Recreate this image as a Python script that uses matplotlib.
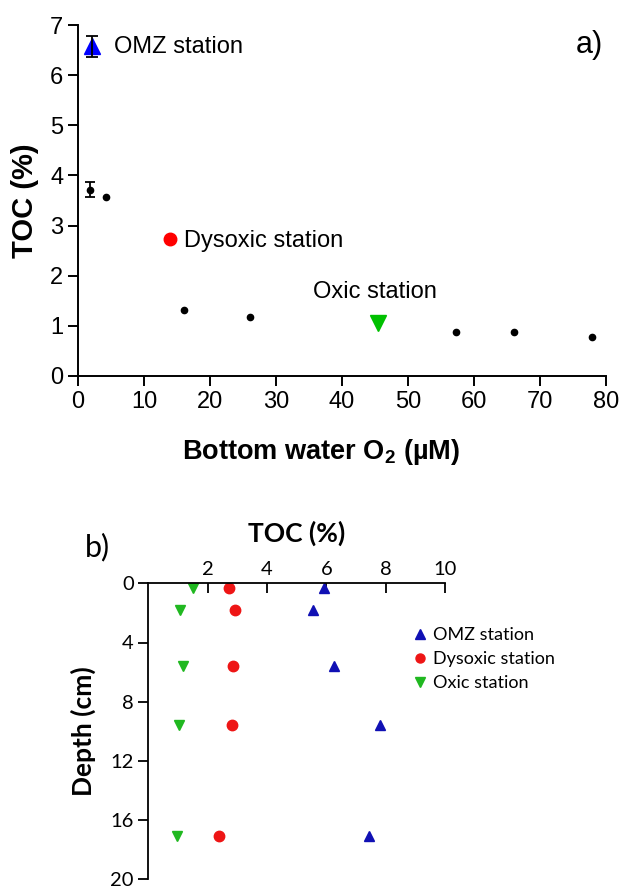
import matplotlib
matplotlib.use('Agg')
import matplotlib.pyplot as plt

plt.rcParams['font.family'] = ['Liberation Sans', 'DejaVu Sans']
plt.rcParams['mathtext.fontset'] = 'custom'
plt.rcParams['mathtext.rm'] = 'Liberation Sans'
plt.rcParams['mathtext.bf'] = 'Liberation Sans:bold'

# panel a: TOC vs bottom water O2
o2_other = [1.8, 4.2, 16.1, 26.1, 57.3, 66.1, 77.9]
toc_other = [3.71, 3.57, 1.32, 1.18, 0.88, 0.87, 0.78]
o2_err, toc_err, err_val = 1.8, 3.71, 0.15
o2_omz, toc_omz, err_omz = 2.1, 6.58, 0.21
o2_dys, toc_dys = 14.0, 2.73
o2_oxic, toc_oxic = 45.5, 1.06

# panel b: TOC depth profiles
depth = [0.3, 1.8, 5.6, 9.6, 17.1]
toc_omz_prof = [5.93, 5.56, 6.25, 7.82, 7.45]
toc_dys_prof = [2.72, 2.92, 2.87, 2.83, 2.38]
toc_oxic_prof = [1.52, 1.07, 1.18, 1.04, 0.96]

fig = plt.figure(figsize=(6.22, 8.86), dpi=100)

# ---- panel a
ax1 = fig.add_axes([78/622, 1-376/886, 528/622, 351/886])
ax1.plot(o2_other, toc_other, 'o', color='black', ms=4.5, zorder=3)
ax1.errorbar(o2_err, toc_err, yerr=err_val, fmt='none', ecolor='black',
             capsize=3.5, elinewidth=1.3, capthick=1.3, zorder=3)
ax1.plot(o2_omz, toc_omz, '^', color='#0000ff', ms=12, zorder=3)
ax1.errorbar(o2_omz, toc_omz, yerr=err_omz, fmt='none', ecolor='black',
             capsize=4, elinewidth=1.3, capthick=1.3, zorder=4)
ax1.plot(o2_dys, toc_dys, 'o', color='#ff0000', ms=9, zorder=3)
ax1.plot(o2_oxic, toc_oxic, 'v', color='#00c000', ms=12, zorder=3)

ax1.text(5.4, 6.57, 'OMZ station', fontsize=17, va='center')
ax1.text(16.1, 2.70, 'Dysoxic station', fontsize=17, va='center')
ax1.text(35.6, 1.68, 'Oxic station', fontsize=17, va='center')
ax1.text(79.5, 6.6, 'a)', fontsize=22, ha='right', va='center')

ax1.set_xlim(0, 80)
ax1.set_ylim(0, 7)
ax1.set_xticks(range(0, 81, 10))
ax1.set_yticks(range(0, 8))
for s in ['top', 'right']:
    ax1.spines[s].set_visible(False)
for s in ['left', 'bottom']:
    ax1.spines[s].set_linewidth(1.4)
ax1.tick_params(labelsize=17, width=1.4, length=7, direction='out')
ax1.set_ylabel('TOC (%)', fontsize=21, fontweight='bold', labelpad=8)
fig.text(321/622, 1-452/886, r'Bottom water O$_{\mathbf{2}}$ (µM)',
         fontsize=19.5, fontweight='bold', ha='center', va='center')

# ---- panel b
fb = ['Lato', 'DejaVu Sans']
ax2 = fig.add_axes([148.3/622, 1-879.3/886, 296.7/622, 296/886])
ax2.plot(toc_omz_prof, depth, '^', color='#1010b4', ms=7.5, label='OMZ station')
ax2.plot(toc_dys_prof, depth, 'o', color='#ee1515', ms=7.5, label='Dysoxic station')
ax2.plot(toc_oxic_prof, depth, 'v', color='#20b820', ms=7.5, label='Oxic station')

ax2.set_xlim(0, 10)
ax2.set_ylim(20, 0)
ax2.set_xticks([2, 4, 6, 8, 10])
ax2.set_yticks([0, 4, 8, 12, 16, 20])
ax2.xaxis.tick_top()
ax2.xaxis.set_label_position('top')
for s in ['bottom', 'right']:
    ax2.spines[s].set_visible(False)
for s in ['left', 'top']:
    ax2.spines[s].set_linewidth(1.3)
ax2.tick_params(axis='x', direction='in', length=7, width=1.3, pad=4)
ax2.tick_params(axis='y', direction='out', length=7, width=1.3)
for lab in ax2.get_xticklabels() + ax2.get_yticklabels():
    lab.set_family(fb)
    lab.set_fontsize(14.5)
ax2.set_xlabel('TOC (%)', fontsize=19, fontweight='bold', family=fb, labelpad=14)
ax2.set_ylabel('Depth (cm)', fontsize=19, fontweight='bold', family=fb, labelpad=10)
fig.text(97/622, 1-547/886, 'b)', fontsize=22, family=fb, ha='center', va='center')

leg = ax2.legend(loc='upper left', bbox_to_anchor=(415/622, 1-627/886),
                 bbox_transform=fig.transFigure, frameon=False,
                 prop={'family': fb, 'size': 13}, handlelength=0.6,
                 handletextpad=0.4, labelspacing=0.45, borderpad=0,
                 borderaxespad=0)
for h in leg.legend_handles:
    h.set_markersize(6.5)

fig.savefig('out.png', dpi=100)
